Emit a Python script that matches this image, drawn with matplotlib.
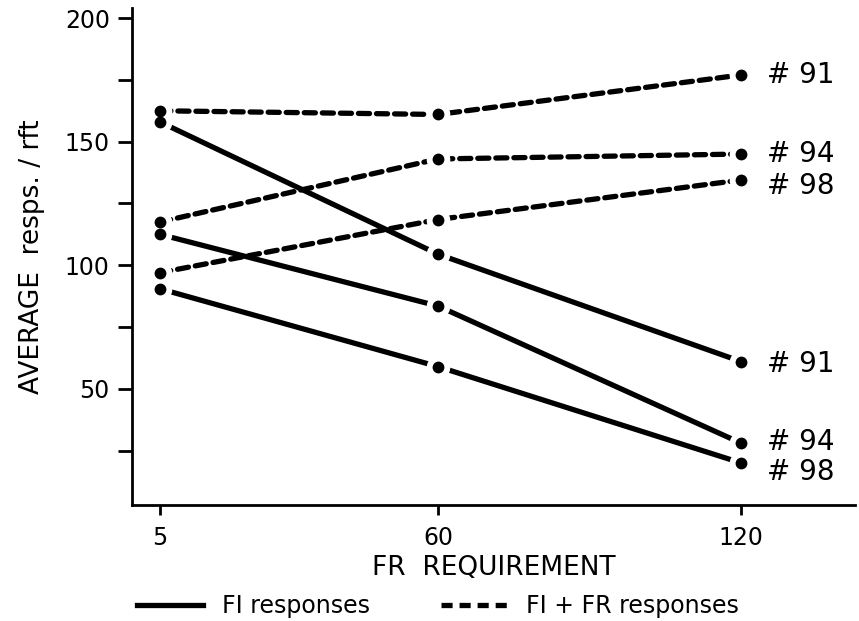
import matplotlib
matplotlib.use("Agg")
import matplotlib.pyplot as plt
from matplotlib.lines import Line2D

plt.rcParams['font.family'] = ['DejaVu Sans']
plt.rcParams['lines.scale_dashes'] = False

# Data
fr_requirement = [5, 60, 120]
subjects = ["91", "94", "98"]
fi_91 = [158, 104.5, 61]
fi_94 = [112.5, 83.5, 28]
fi_98 = [90.5, 59, 20]
fifr_91 = [162.5, 161, 177]
fifr_94 = [117.5, 143, 145]
fifr_98 = [97, 118.5, 134.5]

fig = plt.figure(figsize=(8.59, 6.21), dpi=100)
ax = fig.add_axes([0.1537, 0.1868, 0.8417, 0.800])

solid_series = [fi_91, fi_94, fi_98]
dashed_series = [fifr_91, fifr_94, fifr_98]

lw = 3.8
for s in solid_series:
    ax.plot(fr_requirement, s, color='black', lw=lw, solid_capstyle='butt', zorder=2)
for s in dashed_series:
    ax.plot(fr_requirement, s, color='black', lw=lw, dashes=(8, 5),
            dash_capstyle='round', zorder=2)
# white halos to create gaps around points
for s in solid_series + dashed_series:
    ax.plot(fr_requirement, s, ls='none', marker='o', ms=17, mfc='white',
            mec='none', zorder=3)
for s in solid_series + dashed_series:
    ax.plot(fr_requirement, s, ls='none', marker='o', ms=8.5, mfc='black',
            mec='none', zorder=4)

# end labels
label_off_fifr = [0, 0, -2.5]
label_off_fi = [-1, 0.5, -3.5]
for name, s, off in zip(subjects, dashed_series, label_off_fifr):
    ax.text(125, s[-1] + off, "# " + name, fontsize=20, va='center', ha='left')
for name, s, off in zip(subjects, solid_series, label_off_fi):
    ax.text(125, s[-1] + off, "# " + name, fontsize=20, va='center', ha='left')

ax.set_xlim(-0.5, 142.5)
ax.set_ylim(3, 204)
ax.set_xticks(fr_requirement)
ax.set_xticklabels([str(v) for v in fr_requirement], fontsize=17)
ax.set_yticks([50, 100, 150, 200])
ax.set_yticklabels(["50", "100", "150", "200"], fontsize=17)
ax.set_yticks([25, 75, 125, 175], minor=True)
ax.tick_params(axis='y', which='both', direction='out', length=10, width=2, pad=6)
ax.tick_params(axis='x', which='both', direction='out', length=7, width=2, pad=8)
for side in ['top', 'right']:
    ax.spines[side].set_visible(False)
for side in ['left', 'bottom']:
    ax.spines[side].set_linewidth(2)

ax.set_xlabel("FR  REQUIREMENT", fontsize=19, labelpad=4)
ax.set_ylabel("AVERAGE  resps. / rft", fontsize=19, labelpad=14)

handles = [Line2D([0], [0], color='black', lw=lw),
           Line2D([0], [0], color='black', lw=lw, dashes=(8, 5))]
fig.legend(handles, ["FI responses", "FI + FR responses"], loc='lower center',
           bbox_to_anchor=(0.51, -0.03), ncol=2, frameon=False, fontsize=17,
           handlelength=2.8, columnspacing=3.0, handletextpad=0.8)

fig.savefig("out.png", dpi=100)
